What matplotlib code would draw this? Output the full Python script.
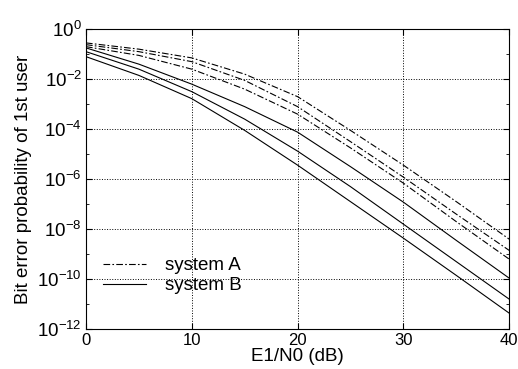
import numpy as np
import matplotlib
matplotlib.use("Agg")
import matplotlib.pyplot as plt

snr_db = [0, 5, 10, 15, 20, 25, 30, 35, 40]

# log10 of bit error probability
sys_a = [
    [-0.55, -0.80, -1.15, -1.80, -2.70, -4.05, -5.44, -6.90, -8.40],
    [-0.62, -0.90, -1.30, -2.05, -3.10, -4.50, -5.92, -7.40, -8.85],
    [-0.70, -1.05, -1.60, -2.40, -3.40, -4.75, -6.16, -7.70, -9.20],
]
sys_b = [
    [-0.75, -1.40, -2.20, -3.10, -4.12, -5.50, -6.92, -8.45, -9.96],
    [-0.90, -1.60, -2.50, -3.60, -4.88, -6.30, -7.80, -9.30, -10.80],
    [-1.10, -1.85, -2.78, -4.05, -5.44, -6.90, -8.36, -9.85, -11.36],
]

plt.rcParams['font.family'] = ['Liberation Sans', 'DejaVu Sans']
plt.rcParams['mathtext.fontset'] = 'custom'
plt.rcParams['mathtext.rm'] = 'Liberation Sans'

fig = plt.figure(figsize=(5.18, 3.69), dpi=100)
ax = fig.add_axes([0.166, 0.108, 0.817, 0.813])

for i, c in enumerate(sys_a):
    ax.semilogy(snr_db, 10.0 ** np.array(c), color='black', lw=0.8,
                dashes=(6, 2, 1.5, 2), label='system A' if i == 0 else None)
for i, c in enumerate(sys_b):
    ax.semilogy(snr_db, 10.0 ** np.array(c), color='black', lw=0.8,
                ls='-', label='system B' if i == 0 else None)

ax.set_xlim(0, 40)
ax.set_ylim(1e-12, 1)
ax.set_xticks([0, 10, 20, 30, 40])
ax.set_yticks([10.0 ** k for k in range(-12, 1, 2)])
ax.set_yticks([10.0 ** k for k in range(-11, 0, 2)], minor=True)
ax.yaxis.set_minor_formatter(matplotlib.ticker.NullFormatter())
ax.tick_params(which='both', direction='in', top=True, right=True, labelsize=13.5)
ax.tick_params(axis='x', labelsize=12)
ax.tick_params(which='major', length=4, pad=3)
ax.tick_params(which='minor', length=2)
ax.grid(True, which='major', ls=':', color='black', lw=0.7)

ax.set_xlabel('E1/N0 (dB)', fontsize=13.5, labelpad=0)
ax.set_ylabel('Bit error probability of 1st user', fontsize=13.5, labelpad=4)

ax.legend(loc='lower left', bbox_to_anchor=(0.0, 0.06), frameon=False,
          fontsize=13.5, handlelength=2.3, handletextpad=1.0, labelspacing=0.15)

fig.savefig('out.png', dpi=100)
